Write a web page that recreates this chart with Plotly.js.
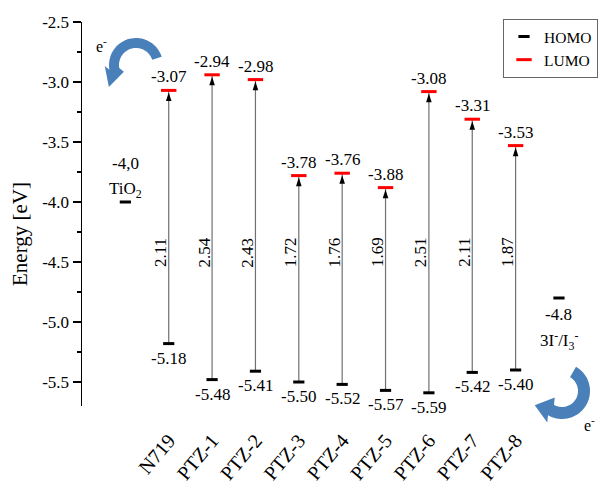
<!DOCTYPE html>
<html><head><meta charset="utf-8">
<script src="https://cdn.plot.ly/plotly-3.0.1.min.js"></script>
<style>html,body{margin:0;padding:0;background:#fff}#chart{width:598px;height:482px}</style>
</head><body><div id="chart"></div>
<script>
// ---- data ----
const categories = ['N719','PTZ-1','PTZ-2','PTZ-3','PTZ-4','PTZ-5','PTZ-6','PTZ-7','PTZ-8'];
const lumo = [-3.07,-2.94,-2.98,-3.78,-3.76,-3.88,-3.08,-3.31,-3.53];
const homo = [-5.18,-5.48,-5.41,-5.50,-5.52,-5.57,-5.59,-5.42,-5.40];
const gaps = [2.11,2.54,2.43,1.72,1.76,1.69,2.51,2.11,1.87];
const tio2Level = -4.0;
const tio2Label = '-4,0';
const tio2Name = 'TiO<sub>2</sub>';
const redoxLevel = -4.8;
const redoxLabel = '-4.8';
const redoxName = '3I<sup>-</sup>/I<sub>3</sub><sup>-</sup>';
const yTicks = [-2.5,-3.0,-3.5,-4.0,-4.5,-5.0,-5.5];
const yMinorTicks = [-2.75,-3.25,-3.75,-4.25,-4.75,-5.25];

// ---- layout constants ----
const FONT = '"Liberation Serif", "Times New Roman", serif';
const ML = 82, MT = 22, PW = 516, PH = 384;
const xs = categories.map((c,i)=>i+1);
const xTio2 = 0, xRedox = categories.length + 1;

// shafts HOMO -> LUMO
const shaftX = [], shaftY = [];
xs.forEach((x,i)=>{ shaftX.push(x,x,null); shaftY.push(homo[i], lumo[i], null); });

const traces = [
  {x: shaftX, y: shaftY, mode:'lines', type:'scatter', showlegend:false, hoverinfo:'skip',
   line:{color:'#707070', width:1.2}},
  {x: xs, y: lumo, mode:'markers', type:'scatter', showlegend:false, hoverinfo:'skip',
   marker:{symbol:'arrow', angle:0, standoff:2, size:9, color:'#000', line:{width:0}}},
  {x: xs, y: homo, mode:'markers', name:'HOMO', type:'scatter',
   marker:{symbol:'line-ew', size:8, color:'#000', line:{width:3, color:'#000'}}, cliponaxis:false},
  {x: xs, y: lumo, mode:'markers', name:'LUMO', type:'scatter',
   marker:{symbol:'line-ew', size:11, color:'#ff0000', line:{width:3, color:'#ff0000'}}, cliponaxis:false},
  {x: [xTio2, xRedox], y: [tio2Level, redoxLevel], mode:'markers', showlegend:false, type:'scatter',
   marker:{symbol:'line-ew', size:8, color:'#000', line:{width:3, color:'#000'}}, cliponaxis:false}
];

const ann = [];
const tf = {family: FONT, size: 17, color:'#000'};
xs.forEach((x,i)=>{
  ann.push({x:x, y:lumo[i], xref:'x', yref:'y', text: lumo[i].toFixed(2), showarrow:false,
    yanchor:'bottom', yshift:2, font:tf});
  ann.push({x:x, y:homo[i], xref:'x', yref:'y', text: homo[i].toFixed(2), showarrow:false,
    yanchor:'top', yshift:-3, font:tf});
  ann.push({x:x, y:-4.42, xref:'x', yref:'y', text: gaps[i].toFixed(2), showarrow:false,
    textangle:-90, xshift:-8, font:tf});
});
ann.push({x:xTio2, y:tio2Level, xref:'x', yref:'y', text:tio2Label, showarrow:false, yshift:39, font:tf});
ann.push({x:xTio2, y:tio2Level, xref:'x', yref:'y', text:tio2Name, showarrow:false, yshift:12, font:tf});
ann.push({x:xRedox, y:redoxLevel, xref:'x', yref:'y', text:redoxLabel, showarrow:false, yshift:-16, font:tf});
ann.push({x:xRedox, y:redoxLevel, xref:'x', yref:'y', text:redoxName, showarrow:false, yshift:-42, font:tf});

const px = v => (v - ML)/PW;
const py = v => (MT + PH - v)/PH;
ann.push({x:px(20), y:py(234), xref:'paper', yref:'paper', xanchor:'center', yanchor:'middle',
  text:'Energy [eV]', textangle:-90, showarrow:false, font:{family:FONT, size:21, color:'#000'}});
ann.push({x:px(101), y:py(45), xref:'paper', yref:'paper', xanchor:'center', yanchor:'middle',
  text:'e<sup>-</sup>', showarrow:false, font:{family:FONT, size:16, color:'#000'}});
ann.push({x:px(589), y:py(424), xref:'paper', yref:'paper', xanchor:'center', yanchor:'middle',
  text:'e<sup>-</sup>', showarrow:false, font:{family:FONT, size:16, color:'#000'}});

function arcArrow(cx,cy,r,th,a0,a1,hd,hw,hl){
  const n=40, rad=Math.PI/180, outer=[], inner=[];
  const P=(R,a)=>[cx+R*Math.cos(a*rad), cy-R*Math.sin(a*rad)];
  for(let i=0;i<=n;i++){ const a=a0+(a1-a0)*i/n; outer.push(P(r+th/2,a)); inner.push(P(r-th/2,a)); }
  const e=P(r,a1); const L=Math.hypot(hd[0],hd[1]); const ux=hd[0]/L, uy=hd[1]/L;
  const nx=-uy, ny=ux;
  let b1=[e[0]+nx*hw, e[1]+ny*hw], b2=[e[0]-nx*hw, e[1]-ny*hw];
  const oe=outer[n];
  if(Math.hypot(b1[0]-oe[0],b1[1]-oe[1]) > Math.hypot(b2[0]-oe[0],b2[1]-oe[1])){ const t=b1; b1=b2; b2=t; }
  const tip=[e[0]+ux*hl, e[1]+uy*hl];
  const pts=outer.concat([b1,tip,b2]).concat(inner.reverse());
  return pts.map((p,i)=>(i?'L':'M')+px(p[0]).toFixed(4)+','+py(p[1]).toFixed(4)).join(' ')+' Z';
}
const shapes = [
  {type:'path', xref:'paper', yref:'paper', layer:'below', path: arcArrow(136,65,22,10,18,190,[-0.3,1],10,19),
   fillcolor:'#4a80b9', line:{width:0}},
  {type:'path', xref:'paper', yref:'paper', layer:'below', path: arcArrow(562,391,22,12,60,-120,[-1,-0.3],13,17),
   fillcolor:'#4a80b9', line:{width:0}}
];

const layout = {
  width:598, height:482,
  margin:{l:ML, r:598-ML-PW, t:MT, b:482-MT-PH, pad:0},
  paper_bgcolor:'#fff', plot_bgcolor:'#fff',
  font:{family:FONT, size:17, color:'#000'},
  showlegend:true,
  legend:{x:1, xanchor:'right', y:1.008, yanchor:'top', bgcolor:'#fff', bordercolor:'#666', borderwidth:1,
    font:{family:FONT, size:15.5, color:'#000'}, tracegroupgap:0},
  xaxis:{range:[-1,10.9], showline:false, showgrid:false, zeroline:false, ticks:'',
    tickmode:'array', tickvals:xs, ticktext:categories, tickangle:-50, ticklabelstandoff:18,
    tickfont:{family:FONT, size:20, color:'#000'}},
  yaxis:{range:[-5.7,-2.5], showline:true, linecolor:'#000', linewidth:1.5, showgrid:false, zeroline:false,
    ticks:'outside', ticklen:8, tickwidth:1.5, tickcolor:'#000', tickmode:'array', tickvals:yTicks,
    ticktext:yTicks.map(v=>v.toFixed(1)), tickfont:{family:FONT, size:17, color:'#000'},
    minor:{ticks:'outside', ticklen:4, tickwidth:1.5, tickcolor:'#000', tickmode:'array', tickvals:yMinorTicks}},
  annotations: ann,
  shapes: shapes
};
Plotly.newPlot('chart', traces, layout, {staticPlot:true, displayModeBar:false});
</script>
</body></html>
